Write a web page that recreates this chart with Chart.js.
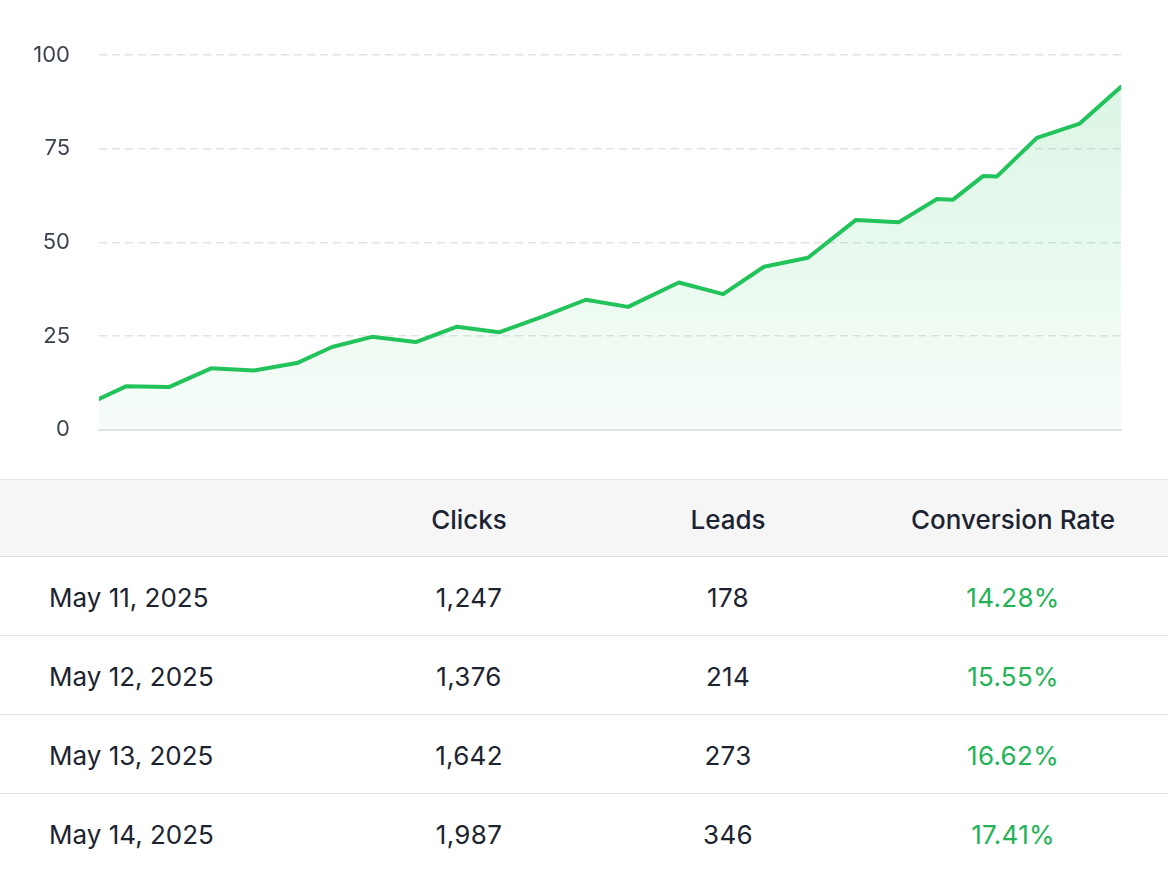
<!DOCTYPE html>
<html>
<head>
<meta charset="utf-8">
<script src="https://cdn.jsdelivr.net/npm/chart.js@4.4.1/dist/chart.umd.min.js"></script>
<style>
    html, body {
        margin: 0;
        padding: 0;
        background: #ffffff;
        font-family: Inter, "Noto Sans", sans-serif;
        color: #1c2331;
    }
    .chart-wrap {
        position: relative;
        width: 1168px;
        height: 472px;
    }
    table {
        position: absolute;
        top: 479px;
        left: 0;
        width: 1168px;
        border-collapse: collapse;
        table-layout: fixed;
    }
    th, td {
        padding: 0;
        font-size: 26px;
        text-align: center;
    }
    thead tr {
        background: #f6f6f7;
        border-top: 1px solid #e6e6e8;
        border-bottom: 1px solid #dedfe2;
        height: 77px;
    }
    th {
        font-weight: 500;
        padding-top: 3px;
    }
    tbody tr {
        height: 79px;
        border-bottom: 1px solid #e2e3e6;
    }
    tbody tr:last-child {
        border-bottom: none;
    }
    td {
        padding-top: 3px;
        letter-spacing: 0.3px;
    }
    td.date {
        text-align: left;
        padding-left: 49px;
        letter-spacing: 0;
    }
    td.rate {
        color: #22b357;
    }
</style>
</head>
<body>
<div class="chart-wrap">
    <canvas id="trendChart"></canvas>
</div>
<table>
    <colgroup>
        <col style="width:340px">
        <col style="width:258px">
        <col style="width:260px">
        <col style="width:310px">
    </colgroup>
    <thead>
        <tr><th></th><th>Clicks</th><th>Leads</th><th>Conversion Rate</th></tr>
    </thead>
    <tbody id="statsBody"></tbody>
</table>
<script>
// Chart data (x = day position, y = value)
const pointX = [0, 0.79, 2.05, 3.29, 4.55, 5.81, 6.84, 8.01, 9.3, 10.51, 11.74, 13.0, 14.29, 15.53,
    17.02, 18.32, 19.52, 20.81, 22.22, 23.48, 24.6, 25.07, 25.95, 26.36, 27.53, 28.79, 30];
const rateValues = [8.2, 11.6, 11.4, 16.4, 15.8, 17.8, 22.1, 24.8, 23.4, 27.5, 26.0, 30.1, 34.7, 32.8,
    39.3, 36.2, 43.5, 45.9, 56.0, 55.4, 61.6, 61.4, 67.7, 67.6, 77.9, 81.7, 91.5];
const yTicks = [0, 25, 50, 75, 100];

// Table data
const dates = ['May 11, 2025', 'May 12, 2025', 'May 13, 2025', 'May 14, 2025'];
const clicks = [1247, 1376, 1642, 1987];
const leads = [178, 214, 273, 346];
const rates = [14.28, 15.55, 16.62, 17.41];

document.addEventListener('DOMContentLoaded', () => {
    buildTable();
    initChart();
});

function buildTable() {
    const tbody = document.getElementById('statsBody');
    dates.forEach((d, i) => {
        const row = document.createElement('tr');
        row.innerHTML = `
            <td class="date">${d}</td>
            <td>${clicks[i].toLocaleString('en-US')}</td>
            <td>${leads[i].toLocaleString('en-US')}</td>
            <td class="rate">${rates[i].toFixed(2)}%</td>
        `;
        tbody.appendChild(row);
    });
}

function initChart() {
    const ctx = document.getElementById('trendChart').getContext('2d');
    const points = pointX.map((x, i) => ({ x: x, y: rateValues[i] }));

    new Chart(ctx, {
        type: 'line',
        data: {
            datasets: [{
                data: points,
                borderColor: '#22c35a',
                borderWidth: 4,
                borderJoinStyle: 'round',
                borderCapStyle: 'round',
                pointRadius: 0,
                tension: 0,
                fill: 'origin',
                backgroundColor: (context) => {
                    const area = context.chart.chartArea;
                    if (!area) return 'rgba(34, 195, 90, 0.08)';
                    const g = context.chart.ctx.createLinearGradient(0, area.top, 0, area.bottom);
                    g.addColorStop(0, 'rgba(34, 195, 90, 0.17)');
                    g.addColorStop(1, 'rgba(34, 195, 90, 0.04)');
                    return g;
                }
            }]
        },
        options: {
            responsive: true,
            maintainAspectRatio: false,
            animation: false,
            layout: {
                padding: { top: 55, right: 47, bottom: 20, left: 0 }
            },
            plugins: {
                legend: { display: false },
                tooltip: { enabled: false }
            },
            scales: {
                x: {
                    type: 'linear',
                    min: pointX[0],
                    max: pointX[pointX.length - 1],
                    ticks: { display: false },
                    grid: { display: false, drawTicks: false },
                    border: { display: true, color: '#e3e4e7', width: 2 }
                },
                y: {
                    min: yTicks[0],
                    max: yTicks[yTicks.length - 1],
                    afterBuildTicks: (scale) => {
                        scale.ticks = yTicks.map(v => ({ value: v }));
                    },
                    afterFit: (scale) => {
                        scale.width = 99;
                    },
                    ticks: {
                        padding: 29,
                        color: '#3b4250',
                        font: { family: 'Inter', size: 22 }
                    },
                    grid: {
                        color: '#e2e3e6',
                        lineWidth: 1.5,
                        drawTicks: false
                    },
                    border: { display: false, dash: [8, 5] }
                }
            }
        }
    });
}
</script>
</body>
</html>
